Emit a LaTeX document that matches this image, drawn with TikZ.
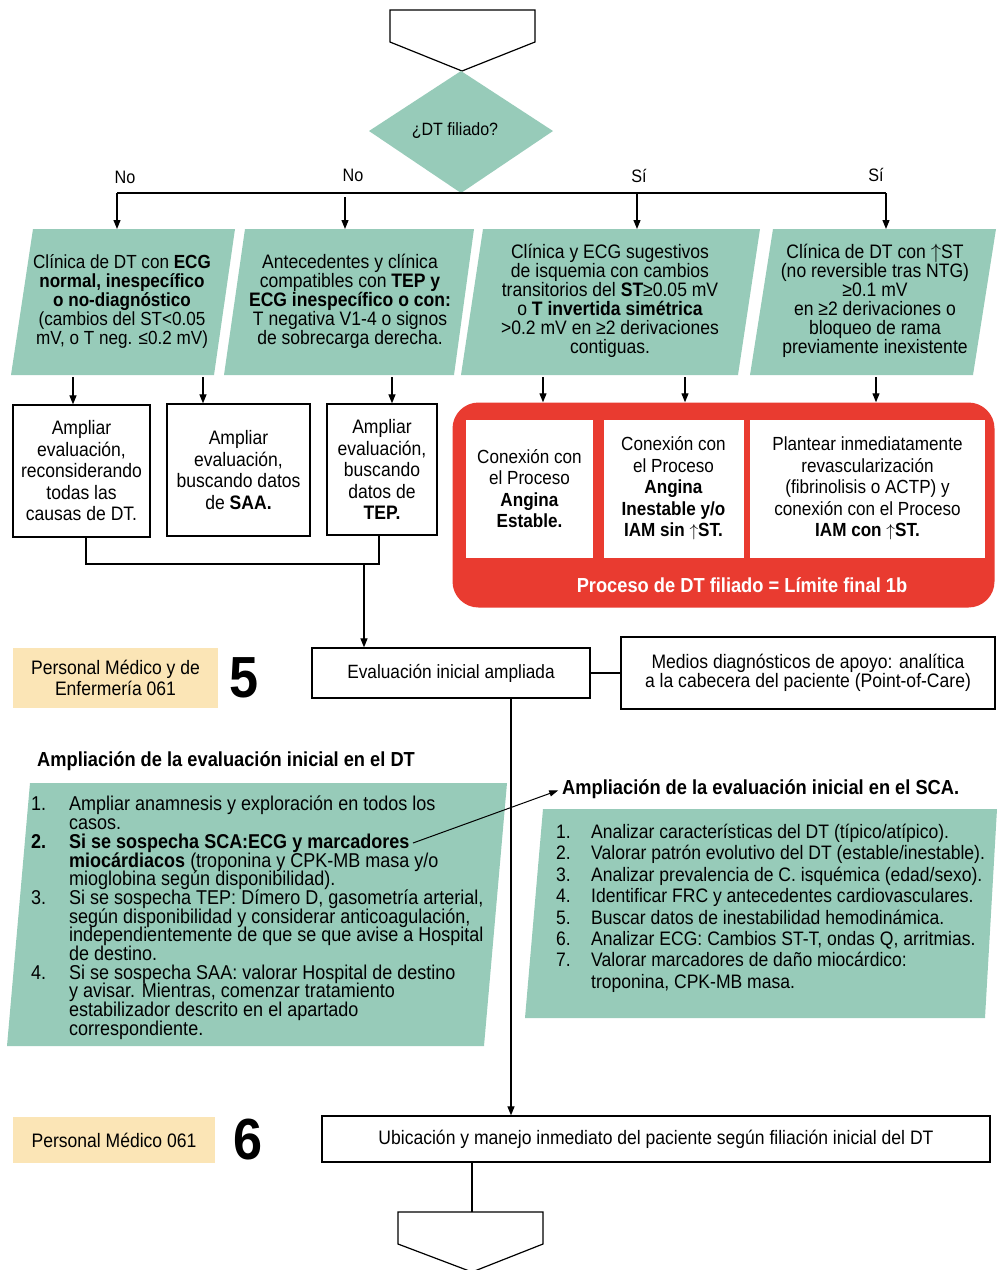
\documentclass[tikz,border=0pt]{standalone}
\usepackage{fontspec}
\setmainfont{Liberation Sans}[FakeStretch=0.9]
\usetikzlibrary{arrows.meta,calc}
\definecolor{sage}{HTML}{97CBB9}
\definecolor{alarm}{HTML}{E93B30}
\definecolor{sand}{HTML}{FBE5B6}
\newcommand{\up}{\ensuremath{\uparrow}}
\newcommand{\itm}[1]{\makebox[38pt][l]{#1}}
\newcommand{\ind}{\hspace*{38pt}}
\newcommand{\itmb}[1]{\makebox[35pt][l]{#1}}
\newcommand{\indb}{\hspace*{35pt}}
\begin{document}
\begin{tikzpicture}[x=1pt,y=-1pt,
  lnk/.style={line width=1.2pt},
  arr/.style={lnk,-{Triangle[length=9pt,width=7pt]}},
  box/.style={draw,line width=1.3pt,align=center,inner sep=0pt},
  body/.style={font=\fontsize{19.5}{19}\selectfont,align=center},
  boxtxt/.style={font=\fontsize{19.5}{21.5}\selectfont,align=center},
  whitebox/.style={fill=white,inner sep=0pt,align=center,font=\fontsize{19}{21.5}\selectfont},
  tag/.style={fill=sand,inner sep=0pt,align=center,font=\fontsize{19.5}{21}\selectfont},
  bignum/.style={font=\fontsize{58}{58}\selectfont\bfseries},
  head/.style={font=\fontsize{20.3}{21}\selectfont\bfseries,anchor=west,inner sep=0pt},
  lbl/.style={font=\fontsize{18}{20}\selectfont},
  listtxt/.style={anchor=north west,inner sep=0pt,align=left}
]
\useasboundingbox (0,0) rectangle (997,1270);

% entry connector and decision
\draw[lnk,fill=white] (390,10) -- (535,10) -- (535,42) -- (462,71) -- (390,42) -- cycle;
\fill[sage] (461,71) -- (553,131) -- (461,193) -- (369,131) -- cycle;
\node[font=\fontsize{17.8}{20}\selectfont] (dq) at (455,131) {¿DT filiado?};
\coordinate (bl) at (117,193);
\coordinate (br) at (886,193);
\draw[lnk] (bl) -- (br);

% branch labels
\node[lbl] at (125,177) {No};
\node[lbl] at (353,175) {No};
\node[lbl] at (639,176) {Sí};
\node[lbl] at (876,175) {Sí};

% four criteria (parallelograms)
\fill[sage] (33,229) -- (235,229) -- (214,375) -- (11,375) -- cycle;
\fill[sage] (245,229) -- (474,229) -- (454,375) -- (224,375) -- cycle;
\fill[sage] (483,229) -- (760,229) -- (738,375) -- (461,375) -- cycle;
\fill[sage] (773,229) -- (996,229) -- (973,375) -- (750,375) -- cycle;

\node[body,font=\fontsize{19}{19}\selectfont,minimum height=146pt] (p1) at (122,301) {Clínica de DT con \textbf{ECG}\\\textbf{normal, inespecífico}\\\textbf{o no-diagnóstico}\\(cambios del ST<0.05\\mV, o T neg. ≤0.2 mV)};
\node[body,minimum height=146pt] (p2) at (350,301) {Antecedentes y clínica\\compatibles con \textbf{TEP y}\\\textbf{ECG inespecífico o con:}\\T negativa V1-4 o signos\\de sobrecarga derecha.};
\node[body,minimum height=146pt] (p3) at (610,301) {Clínica y ECG sugestivos\\de isquemia con cambios\\transitorios del \textbf{ST}≥0.05 mV\\o \textbf{T invertida simétrica}\\>0.2 mV en ≥2 derivaciones\\contiguas.};
\node[body,minimum height=146pt] (p4) at (875,301) {Clínica de DT con \up ST\\(no reversible tras NTG)\\≥0.1 mV\\en ≥2 derivaciones o\\bloqueo de rama\\previamente inexistente};

\draw[arr] (bl) -- (bl |- 0,229);
\draw[arr] (345,197) -- (345,229);
\draw[arr] (637,193) -- (637,229);
\draw[arr] (br) -- (br |- 0,229);

% second-level actions
\node[box,minimum width=137pt,minimum height=132pt,boxtxt] (b1) at (81.5,471) {Ampliar\\evaluación,\\reconsiderando\\todas las\\causas de DT.};
\node[box,minimum width=143pt,minimum height=132pt,boxtxt] (b2) at (238.5,470) {Ampliar\\evaluación,\\buscando datos\\de \textbf{SAA.}};
\node[box,minimum width=110pt,minimum height=131pt,boxtxt] (b3) at (382,469.5) {Ampliar\\evaluación,\\buscando\\datos de\\\textbf{TEP.}};

% confirmed pathways
\node[fill=alarm,rounded corners=26pt,minimum width=542pt,minimum height=205pt,inner sep=0pt] (red) at (723.5,505) {};
\node[whitebox,minimum width=127pt,minimum height=138pt] (w1) at (529.5,488.5) {Conexión con\\el Proceso\\\textbf{Angina}\\\textbf{Estable.}};
\node[whitebox,minimum width=140pt,minimum height=138pt] (w2) at (673.5,488.5) {Conexión con\\el Proceso\\\textbf{Angina}\\\textbf{Inestable y/o}\\\textbf{IAM sin \up ST.}};
\node[whitebox,minimum width=235pt,minimum height=138pt] (w3) at (867.5,488.5) {Plantear inmediatamente\\revascularización\\(fibrinolisis o ACTP) y\\conexión con el Proceso\\\textbf{IAM con \up ST.}};
\node[text=white,font=\fontsize{20.3}{21}\selectfont\bfseries] (lim) at (742,585) {Proceso de DT filiado = Límite final 1b};

\draw[arr] (73,377) -- (b1.north -| 73,0);
\draw[arr] (203,377) -- (b2.north -| 203,0);
\draw[arr] (392,377) -- (b3.north -| 392,0);
\draw[arr] (543,377) -- (red.north -| 543,0);
\draw[arr] (685,377) -- (red.north -| 685,0);
\draw[arr] (876,377) -- (red.north -| 876,0);

% step 5
\node[tag,minimum width=205pt,minimum height=60pt] (t5) at (115.5,678) {Personal Médico y de\\Enfermería 061};
\node[bignum] (n5) at (244,678) {5};
\node[box,minimum width=278pt,minimum height=50pt,font=\fontsize{19.2}{21}\selectfont] (ev) at (451,673) {Evaluación inicial ampliada};
\node[box,minimum width=374pt,minimum height=72pt,font=\fontsize{19.5}{19}\selectfont] (md) at (808,673) {Medios diagnósticos de apoyo: analítica\\a la cabecera del paciente (Point-of-Care)};
\draw[lnk] (ev.east) -- (md.west);

\coordinate (j) at (364,564);
\draw[lnk] (b1.south -| 86,0) |- (j);
\draw[lnk] (b2.south -| 234,0) -- (b2.south -| 234,0 |- j);
\draw[lnk] (j) -| (b3.south -| 379,0);
\draw[arr] (j) -- (ev.north -| j);

% extended assessment lists
\node[head] (hdt) at (37,761) {Ampliación de la evaluación inicial en el DT};
\fill[sage] (30,783) -- (507,783) -- (484,1046) -- (7,1046) -- cycle;
\node[listtxt,font={\fontsize{20}{18.7}\selectfont\lineskiplimit=-30pt}] (ldt) at (31,796) {%
\itm{1.}Ampliar anamnesis y exploración en todos los\\
\ind casos.\\
\itm{\textbf{2.}}\textbf{Si se sospecha SCA:ECG y marcadores}\\
\ind\textbf{miocárdiacos} (troponina y CPK-MB masa y/o\\
\ind mioglobina según disponibilidad).\\
\itm{3.}Si se sospecha TEP: Dímero D, gasometría arterial,\\
\ind según disponibilidad y considerar anticoagulación,\\
\ind independientemente de que se que avise a Hospital\\
\ind de destino.\\
\itm{4.}Si se sospecha SAA: valorar Hospital de destino\\
\ind y avisar. Mientras, comenzar tratamiento\\
\ind estabilizador descrito en el apartado\\
\ind correspondiente.};

\node[head] (hsca) at (562,789) {Ampliación de la evaluación inicial en el SCA.};
\fill[sage] (543,809) -- (997,809) -- (985,1018) -- (525,1018) -- cycle;
\node[listtxt,font={\fontsize{19.5}{21.4}\selectfont\lineskiplimit=-30pt}] (lsca) at (556,824) {%
\itmb{1.}Analizar características del DT (típico/atípico).\\
\itmb{2.}Valorar patrón evolutivo del DT (estable/inestable).\\
\itmb{3.}Analizar prevalencia de C. isquémica (edad/sexo).\\
\itmb{4.}Identificar FRC y antecedentes cardiovasculares.\\
\itmb{5.}Buscar datos de inestabilidad hemodinámica.\\
\itmb{6.}Analizar ECG: Cambios ST-T, ondas Q, arritmias.\\
\itmb{7.}Valorar marcadores de daño miocárdico:\\
\indb troponina, CPK-MB masa.};

% pointer from item 2 to the SCA list
\coordinate (mk) at (413,843);
\draw[lnk,line width=1pt,shorten >=4pt,-{Triangle[length=9pt,width=6pt]}] (mk) -- (hsca.west);

% step 6
\node[tag,minimum width=202pt,minimum height=46pt] (t6) at (114,1140) {Personal Médico 061};
\node[bignum] (n6) at (248,1140) {6};
\node[box,minimum width=668pt,minimum height=46pt,font=\fontsize{19.5}{21}\selectfont] (ub) at (656,1139) {Ubicación y manejo inmediato del paciente según filiación inicial del DT};
\draw[arr] (ev.south -| 511,0) -- (ub.north -| 511,0);

% exit connector
\coordinate (ex) at (472,1212);
\draw[lnk] (ub.south -| ex) -- (ex);
\draw[lnk,fill=white] (398,1212) -- (543,1212) -- (543,1244) -- (472,1272) -- (398,1244) -- cycle;
\end{tikzpicture}
\end{document}
